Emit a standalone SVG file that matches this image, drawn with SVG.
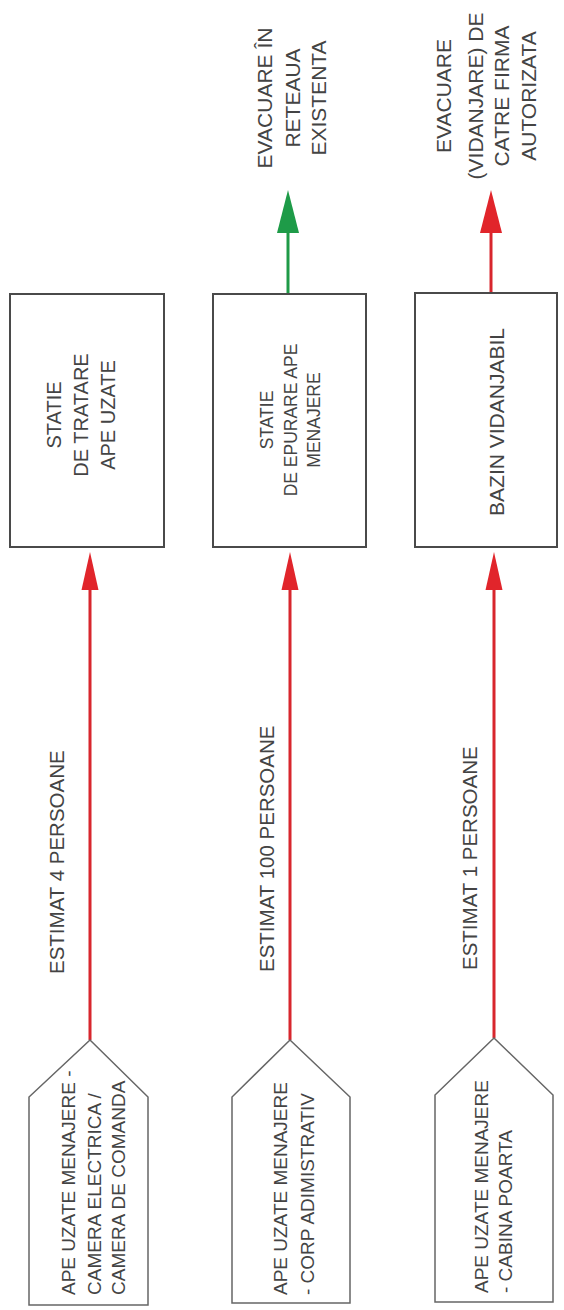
<svg xmlns="http://www.w3.org/2000/svg" width="564" height="1310" viewBox="0 0 564 1310">
  <style>
    .box { fill: #ffffff; stroke: #4a4a4a; stroke-width: 2; }
    .src { fill: #ffffff; stroke: #666666; stroke-width: 1.5; }
    .txt { font-family: "Liberation Sans", Arial, sans-serif; fill: #444444; }
    .red { stroke: #d8262d; stroke-width: 3; fill: none; }
    .green { stroke: #1f9a47; stroke-width: 3; fill: none; }
    .redhead { fill: #e1252b; }
    .greenhead { fill: #1e9b48; }
  </style>
  <rect width="564" height="1310" fill="#ffffff"/>

  <!-- connectors: flows from sources up to the units, then out -->
  <g id="connectors">
    <line class="red" x1="90" y1="1040" x2="90" y2="586"/>
    <polygon class="redhead" points="90,552 81.5,590 98.5,590"/>
    <line class="red" x1="290" y1="1040" x2="290" y2="586"/>
    <polygon class="redhead" points="290,552 281.5,590 298.5,590"/>
    <line class="red" x1="494" y1="1038" x2="494" y2="586"/>
    <polygon class="redhead" points="494,552 485.5,590 502.5,590"/>

    <line class="green" x1="288" y1="293" x2="288" y2="228"/>
    <polygon class="greenhead" points="288,190 277,233 299,233"/>
    <line class="red" x1="491" y1="293" x2="491" y2="228"/>
    <polygon class="redhead" points="491,190 480,233 502,233"/>

    <text class="txt" font-size="20.5" transform="translate(63.5,974) rotate(-90)">ESTIMAT 4 PERSOANE</text>
    <text class="txt" font-size="20.5" transform="translate(273.5,972) rotate(-90)">ESTIMAT 100 PERSOANE</text>
    <text class="txt" font-size="20.5" transform="translate(476.5,970) rotate(-90)">ESTIMAT 1 PERSOANE</text>
  </g>

  <!-- outlet labels -->
  <g id="out-retea">
    <g class="txt" font-size="21" text-anchor="middle" transform="translate(0,98) rotate(-90)">
      <text x="0" y="271.5">EVACUARE ÎN</text>
      <text x="0" y="299.5">RETEAUA</text>
      <text x="0" y="325.5">EXISTENTA</text>
    </g>
  </g>
  <g id="out-vidanjare">
    <g class="txt" font-size="21" text-anchor="middle" transform="translate(0,96) rotate(-90)">
      <text x="0" y="450.5">EVACUARE</text>
      <text x="0" y="482.5">(VIDANJARE) DE</text>
      <text x="0" y="508.5">CATRE FIRMA</text>
      <text x="0" y="535.5">AUTORIZATA</text>
    </g>
  </g>

  <!-- treatment units -->
  <g id="statie-tratare">
    <rect class="box" x="10" y="294" width="154" height="253"/>
    <g class="txt" font-size="20" text-anchor="middle" transform="translate(0,415) rotate(-90)">
      <text x="0" y="61">STATIE</text>
      <text x="0" y="88">DE TRATARE</text>
      <text x="0" y="115">APE UZATE</text>
    </g>
  </g>
  <g id="statie-epurare">
    <rect class="box" x="213" y="294" width="153" height="253"/>
    <g class="txt" font-size="17.5" text-anchor="middle" transform="translate(0,420) rotate(-90)">
      <text x="0" y="273">STATIE</text>
      <text x="0" y="297">DE EPURARE APE</text>
      <text x="0" y="320">MENAJERE</text>
    </g>
  </g>
  <g id="bazin-vidanjabil">
    <rect class="box" x="415" y="293" width="142" height="254"/>
    <g class="txt" font-size="21" text-anchor="middle" transform="translate(0,422) rotate(-90)">
      <text x="0" y="503.5">BAZIN VIDANJABIL</text>
    </g>
  </g>

  <!-- wastewater sources -->
  <g id="sursa-camera">
    <polygon class="src" points="29,1305 29,1097 90,1040 148,1097 148,1305"/>
    <g class="txt" font-size="19" transform="translate(0,1295) rotate(-90)">
      <text x="0" y="74.5">APE UZATE MENAJERE -</text>
      <text x="0" y="100.5">CAMERA ELECTRICA /</text>
      <text x="0" y="124.5">CAMERA DE COMANDA</text>
    </g>
  </g>
  <g id="sursa-corp">
    <polygon class="src" points="232,1303 232,1097 290,1040 350,1097 350,1303"/>
    <g class="txt" font-size="19" transform="translate(0,1295) rotate(-90)">
      <text x="0" y="286.5">APE UZATE MENAJERE</text>
      <text x="0" y="313.5">- CORP ADIMISTRATIV</text>
    </g>
  </g>
  <g id="sursa-cabina">
    <polygon class="src" points="435,1302 435,1095 494,1038 553,1095 553,1302"/>
    <g class="txt" font-size="19" transform="translate(0,1293) rotate(-90)">
      <text x="0" y="488">APE UZATE MENAJERE</text>
      <text x="0" y="512">- CABINA POARTA</text>
    </g>
  </g>
</svg>
